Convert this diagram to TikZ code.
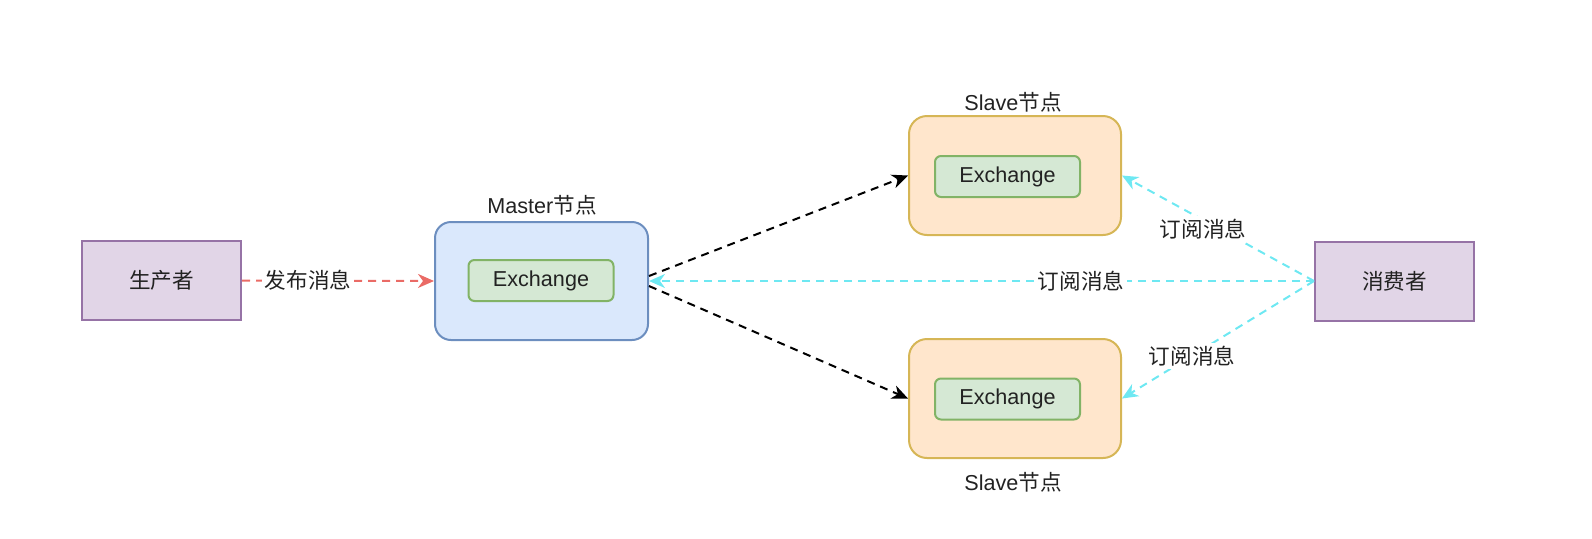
\documentclass[tikz,border=0pt]{standalone}
\usepackage{fontspec}
\setmainfont{Liberation Sans}
\newfontfamily\cjk{Noto Sans CJK SC}
\usetikzlibrary{arrows.meta}
\definecolor{purpfill}{HTML}{E1D5E7}
\definecolor{purpline}{HTML}{9673A6}
\definecolor{bluefill}{HTML}{DAE8FC}
\definecolor{blueline}{HTML}{6C8EBF}
\definecolor{orfill}{HTML}{FFE6CC}
\definecolor{orline}{HTML}{D6B656}
\definecolor{grfill}{HTML}{D5E8D4}
\definecolor{grline}{HTML}{82B366}
\definecolor{redarrow}{HTML}{EA6B66}
\definecolor{cyanarrow}{HTML}{6EE8F2}
\definecolor{txt}{HTML}{222222}
\tikzset{
  every node/.style={font=\fontsize{10.8pt}{13pt}\selectfont, text=txt},
  actor/.style={draw=purpline, fill=purpfill, line width=1pt, minimum width=79.5pt, minimum height=39.5pt, inner sep=0pt},
  master/.style={draw=blueline, fill=bluefill, line width=1pt, rounded corners=8pt, minimum width=106.5pt, minimum height=59pt, inner sep=0pt},
  slave/.style={draw=orline, fill=orfill, line width=1pt, rounded corners=9pt, minimum width=106pt, minimum height=59.5pt, inner sep=0pt},
  exch/.style={draw=grline, fill=grfill, line width=1pt, rounded corners=3pt, minimum width=72.5pt, minimum height=20.5pt, inner sep=0pt},
  captxt/.style={inner sep=1pt},
  lbl/.style={fill=white, inner sep=1.5pt},
  conn/.style={line width=1pt, dash pattern=on 4pt off 3pt, -{Stealth[length=8pt,width=7pt,inset=2.5pt]}},
}
\begin{document}
\begin{tikzpicture}[x=0.5pt,y=-0.5pt]
\useasboundingbox (0,0) rectangle (1592,538);
% nodes
\node[actor] (prod) at (161.5,280.5) {\cjk 生产者};
\node[master] (master) at (541.5,281) {};
\node[exch] (mex) at (541,280.5) {Exchange};
\node[captxt] (mlab) at (542,205) {Master{\cjk 节点}};
\node[slave] (stop) at (1015,175.5) {};
\node[exch] (stex) at (1007.5,176.5) {Exchange};
\node[captxt] (stlab) at (1013,102) {Slave{\cjk 节点}};
\node[slave] (sbot) at (1015,398.5) {};
\node[exch] (sbex) at (1007.5,399) {Exchange};
\node[captxt] (sblab) at (1013,482) {Slave{\cjk 节点}};
\node[actor] (cons) at (1394.5,281) {\cjk 消费者};
% connectors
\draw[conn, draw=redarrow] (prod.east) -- (master.west);
\node[lbl] at (308,280.5) {\cjk 发布消息};
\draw[conn, draw=black] ([yshift=2.5pt]master.east) -- (stop.west);
\draw[conn, draw=black] ([yshift=-2.5pt]master.east) -- (sbot.west);
\draw[conn, draw=cyanarrow] (cons.west) -- (master.east);
\node[lbl] at (1081,281) {\cjk 订阅消息};
\draw[conn, draw=cyanarrow] (cons.west) -- (stop.east);
\node[lbl] at (1203,229) {\cjk 订阅消息};
\draw[conn, draw=cyanarrow] (cons.west) -- (sbot.east);
\node[lbl] at (1192,356) {\cjk 订阅消息};
\end{tikzpicture}
\end{document}
